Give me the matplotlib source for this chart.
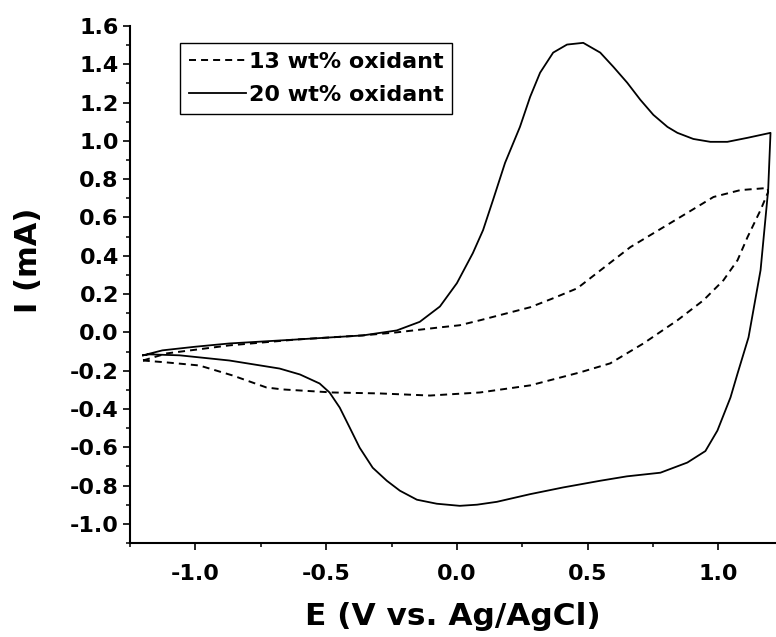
import numpy as np
import matplotlib
matplotlib.use("Agg")
from matplotlib import pyplot as plt
from matplotlib.ticker import MultipleLocator

plt.rcParams['font.family'] = ['DejaVu Sans']
plt.rcParams['font.weight'] = 'bold'

# 20 wt% oxidant (solid), one full cycle
E_20 = [-1.20, -1.126, -1.0, -0.87, -0.61, -0.36, -0.23, -0.142, -0.065, 0.0,
        0.061, 0.10, 0.138, 0.184, 0.241, 0.28, 0.318, 0.368, 0.421, 0.483,
        0.548, 0.598, 0.651, 0.701, 0.751, 0.805, 0.843, 0.904, 0.969, 1.034,
        1.111, 1.199,
        1.19, 1.161, 1.115, 1.073, 1.046, 0.996, 0.95, 0.881, 0.778, 0.65,
        0.548, 0.406, 0.28, 0.153, 0.077, 0.011, -0.077, -0.153, -0.218,
        -0.268, -0.322, -0.372, -0.41, -0.448, -0.487, -0.525, -0.60, -0.678,
        -0.87, -1.06, -1.176, -1.20]
I_20 = [-0.12, -0.094, -0.075, -0.058, -0.037, -0.016, 0.01, 0.055, 0.135, 0.257,
        0.414, 0.534, 0.691, 0.885, 1.073, 1.23, 1.356, 1.461, 1.503, 1.512,
        1.461, 1.387, 1.304, 1.215, 1.136, 1.073, 1.042, 1.010, 0.995, 0.995,
        1.016, 1.042,
        0.743, 0.325, -0.026, -0.215, -0.34, -0.513, -0.62, -0.68, -0.733, -0.752,
        -0.775, -0.81, -0.845, -0.885, -0.90, -0.906, -0.895, -0.874, -0.827,
        -0.775, -0.707, -0.602, -0.497, -0.393, -0.314, -0.267, -0.22, -0.189,
        -0.147, -0.12, -0.115, -0.12]

# 13 wt% oxidant (dashed)
E_13 = [-1.20, -1.11, -0.87, -0.61, -0.36, -0.23, -0.103, -0.065, 0.01, 0.088,
        0.28, 0.368, 0.46, 0.663, 0.854, 0.981, 1.084, 1.188,
        1.19, 1.161, 1.111, 1.073, 1.019, 0.943, 0.843, 0.713, 0.586, 0.471,
        0.28, 0.088, -0.103, -0.295, -0.475, -0.667, -0.728, -0.858, -0.985,
        -1.11, -1.20]
I_13 = [-0.147, -0.11, -0.068, -0.037, -0.016, 0.0, 0.02, 0.026, 0.037, 0.063,
        0.131, 0.178, 0.23, 0.445, 0.602, 0.707, 0.743, 0.754,
        0.733, 0.639, 0.497, 0.377, 0.272, 0.168, 0.063, -0.058, -0.162, -0.209,
        -0.277, -0.314, -0.33, -0.319, -0.314, -0.298, -0.288, -0.225, -0.173,
        -0.157, -0.147]

x_ticks = [-1.0, -0.5, 0.0, 0.5, 1.0]
y_ticks = [-1.0, -0.8, -0.6, -0.4, -0.2, 0.0, 0.2, 0.4, 0.6, 0.8, 1.0, 1.2, 1.4, 1.6]

fig = plt.figure(figsize=(7.76, 6.37), dpi=100)
ax = fig.add_axes([0.1675, 0.1476, 0.8325, 0.8116])

ax.plot(E_13, I_13, color='black', lw=1.4, linestyle=(0, (3.6, 2.6)), label='13 wt% oxidant')
ax.plot(E_20, I_20, color='black', lw=1.3, label='20 wt% oxidant')

ax.set_xlim(-1.25, 1.22)
ax.set_ylim(-1.1, 1.6)
ax.set_xticks(x_ticks)
ax.set_xticklabels(['%.1f' % v for v in x_ticks])
ax.set_yticks(y_ticks)
ax.set_yticklabels(['%.1f' % v for v in y_ticks])
ax.xaxis.set_minor_locator(MultipleLocator(0.25))
ax.yaxis.set_minor_locator(MultipleLocator(0.1))

ax.spines['top'].set_visible(False)
ax.spines['right'].set_visible(False)
ax.spines['left'].set_linewidth(1.5)
ax.spines['bottom'].set_linewidth(1.5)
ax.tick_params(which='major', direction='out', length=5, width=1.2, labelsize=16, pad=3)
ax.tick_params(axis='x', which='major', pad=10)
ax.tick_params(which='minor', direction='out', length=3, width=1.1)
for lab in ax.get_xticklabels() + ax.get_yticklabels():
    lab.set_fontweight('bold')

ax.set_xlabel('E (V vs. Ag/AgCl)', fontsize=22.5, fontweight='bold', labelpad=13)
ax.set_ylabel('I (mA)', fontsize=22, fontweight='bold')
ax.yaxis.set_label_coords(-0.135, 0.547)

leg = ax.legend(loc='upper left', bbox_to_anchor=(0.077, 0.967), fontsize=16,
                frameon=True, fancybox=False, framealpha=1, edgecolor='black',
                handlelength=2.6, handletextpad=0.1, borderpad=0.4,
                labelspacing=0.6, borderaxespad=0)
leg.get_frame().set_linewidth(1.0)
for t in leg.get_texts():
    t.set_fontweight('bold')

fig.savefig('out.png', dpi=100)
